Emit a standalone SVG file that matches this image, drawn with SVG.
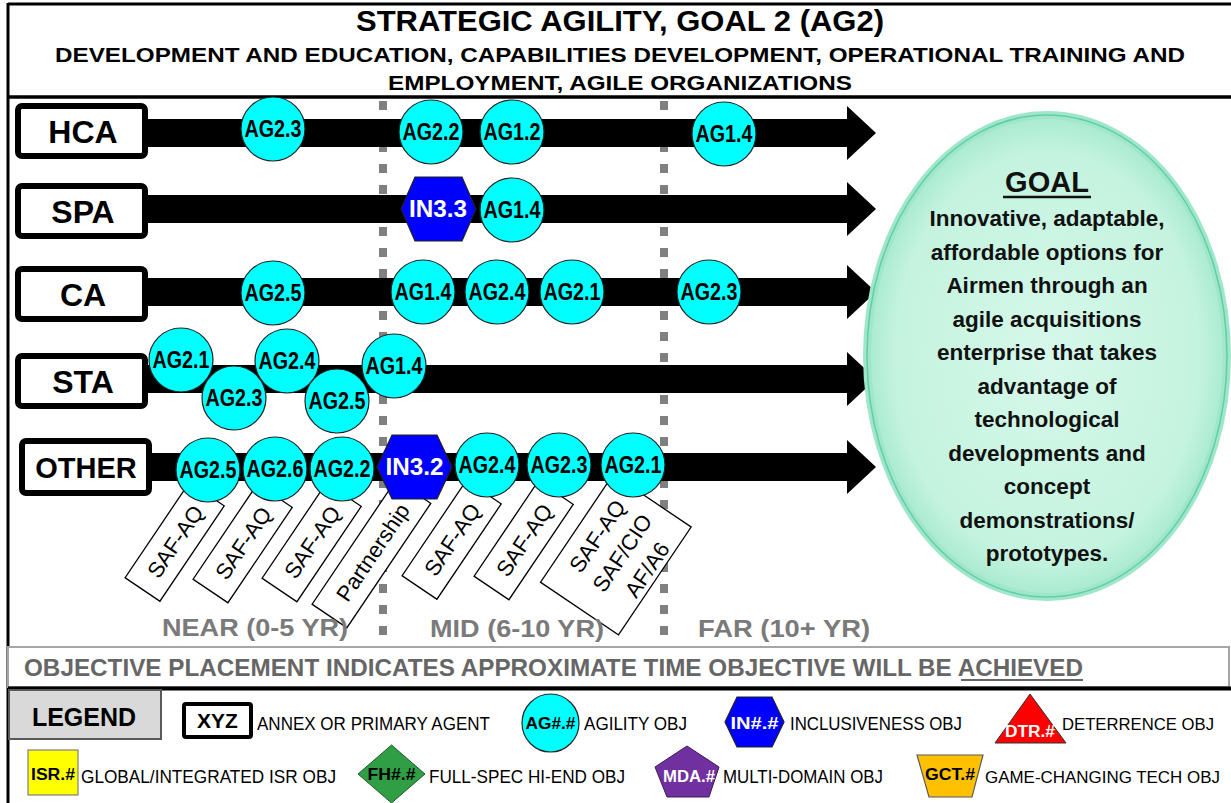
<svg xmlns="http://www.w3.org/2000/svg" width="1231" height="803" viewBox="0 0 1231 803">
<defs>
<radialGradient id="goalFill" cx="50%" cy="50%" r="50%">
<stop offset="0" stop-color="#d6f8ea"/>
<stop offset="0.85" stop-color="#c4f3df"/>
<stop offset="1" stop-color="#a8ead0"/>
</radialGradient>
<style>
text{font-family:"Liberation Sans",Arial,sans-serif;}
.b{font-weight:bold;}
.lbl{fill:#fff;stroke:#000;stroke-width:6;}
.lblt{font-size:32px;font-weight:bold;text-anchor:middle;fill:#000;}
.bar{fill:#000;}
.dash{stroke:#808080;stroke-width:8;stroke-dasharray:9 12;fill:none;}
.ag{fill:#00ffff;stroke:#222;stroke-width:1.2;}
.agt{font-size:23px;font-weight:bold;text-anchor:middle;fill:#000;}
.in{fill:#0000ff;stroke:#222;stroke-width:1.2;}
.int{font-size:23px;font-weight:bold;text-anchor:middle;fill:#fff;}
.tag{fill:#fff;stroke:#000;stroke-width:1.3;}
.tagt{font-size:22px;text-anchor:middle;fill:#000;}
.time{font-size:24px;font-weight:bold;fill:#7a7a7a;}
.leg{font-size:19px;fill:#000;}
.legn{font-size:16.5px;fill:#000;}
.legs{font-size:16px;font-weight:bold;text-anchor:middle;}
.goal{font-size:22.5px;font-weight:bold;text-anchor:middle;fill:#111;}
</style>
</defs>
<rect x="0" y="0" width="1231" height="803" fill="#fff"/>

<!-- frame & title -->
<g id="title">
<line x1="8" y1="4" x2="1231" y2="4" stroke="#000" stroke-width="3"/>
<line x1="8" y1="3" x2="8" y2="803" stroke="#000" stroke-width="3"/>
<line x1="8" y1="97" x2="1231" y2="97" stroke="#000" stroke-width="3.5"/>
<text x="620" y="31" class="b" font-size="29" text-anchor="middle" textLength="528" lengthAdjust="spacingAndGlyphs">STRATEGIC AGILITY, GOAL 2 (AG2)</text>
<text x="620" y="62" class="b" font-size="20.5" text-anchor="middle" textLength="1130" lengthAdjust="spacingAndGlyphs">DEVELOPMENT AND EDUCATION, CAPABILITIES DEVELOPMENT, OPERATIONAL TRAINING AND</text>
<text x="620" y="90" class="b" font-size="20.5" text-anchor="middle" textLength="464" lengthAdjust="spacingAndGlyphs">EMPLOYMENT, AGILE ORGANIZATIONS</text>
</g>

<!-- time dividers -->
<g id="dividers">
<line class="dash" x1="383" y1="101" x2="383" y2="648"/>
<line class="dash" x1="664" y1="101" x2="664" y2="648"/>
</g>

<!-- connectors: timeline bars with arrowheads -->
<g id="connectors">
<rect class="bar" x="146" y="119" width="702" height="28"/>
<polygon class="bar" points="847,106 876,133 847,160"/>
<rect class="bar" x="146" y="195" width="702" height="28"/>
<polygon class="bar" points="847,182 876,209 847,236"/>
<rect class="bar" x="146" y="278" width="702" height="28"/>
<polygon class="bar" points="847,265 876,292 847,319"/>
<rect class="bar" x="146" y="365" width="702" height="28"/>
<polygon class="bar" points="847,352 876,379 847,406"/>
<rect class="bar" x="150" y="453" width="698" height="28"/>
<polygon class="bar" points="847,440 876,467 847,494"/>
</g>

<!-- row labels -->
<g id="row-HCA"><rect class="lbl" x="18" y="106" width="127" height="50" rx="4"/><text class="lblt" x="83" y="143">HCA</text></g>
<g id="row-SPA"><rect class="lbl" x="18" y="186" width="127" height="50" rx="4"/><text class="lblt" x="83" y="223">SPA</text></g>
<g id="row-CA"><rect class="lbl" x="18" y="269" width="127" height="50" rx="4"/><text class="lblt" x="83" y="306">CA</text></g>
<g id="row-STA"><rect class="lbl" x="18" y="356" width="127" height="50" rx="4"/><text class="lblt" x="83" y="393">STA</text></g>
<g id="row-OTHER"><rect class="lbl" x="22" y="441" width="127" height="52" rx="4"/><text class="lblt" x="86" y="478" style="font-size:29px">OTHER</text></g>

<!-- agent tags under OTHER row -->
<g id="tag-1" transform="translate(142.5,589.5) rotate(-56)"><rect class="tag" x="0" y="-21" width="115" height="42"/><text class="tagt" x="58" y="8">SAF-AQ</text></g>
<g id="tag-2" transform="translate(210.5,591) rotate(-56)"><rect class="tag" x="0" y="-21" width="115" height="42"/><text class="tagt" x="58" y="8">SAF-AQ</text></g>
<g id="tag-3" transform="translate(279.5,590) rotate(-56)"><rect class="tag" x="0" y="-21" width="115" height="42"/><text class="tagt" x="58" y="8">SAF-AQ</text></g>
<g id="tag-4" transform="translate(329.5,616) rotate(-56)"><rect class="tag" x="0" y="-21" width="150" height="42"/><text class="tagt" x="77" y="8">Partnership</text></g>
<g id="tag-5" transform="translate(419.5,587.5) rotate(-56)"><rect class="tag" x="0" y="-21" width="115" height="42"/><text class="tagt" x="58" y="8">SAF-AQ</text></g>
<g id="tag-6" transform="translate(491.5,588) rotate(-56)"><rect class="tag" x="0" y="-21" width="115" height="42"/><text class="tagt" x="58" y="8">SAF-AQ</text></g>
<g id="tag-7" transform="translate(579.5,608.5) rotate(-56)"><rect class="tag" x="0" y="-47" width="130" height="94"/>
<text class="tagt" x="70" y="-18">SAF-AQ</text><text class="tagt" x="70" y="12">SAF/CIO</text><text class="tagt" x="70" y="42">AF/A6</text></g>

<!-- HCA objectives -->
<g id="hca-ag23"><circle class="ag" cx="273" cy="129" r="32"/><text class="agt" x="273" y="137" textLength="57" lengthAdjust="spacingAndGlyphs">AG2.3</text></g>
<g id="hca-ag22"><circle class="ag" cx="431" cy="132" r="32"/><text class="agt" x="431" y="140" textLength="57" lengthAdjust="spacingAndGlyphs">AG2.2</text></g>
<g id="hca-ag12"><circle class="ag" cx="512" cy="132" r="32"/><text class="agt" x="512" y="140" textLength="57" lengthAdjust="spacingAndGlyphs">AG1.2</text></g>
<g id="hca-ag14"><circle class="ag" cx="724" cy="134" r="32"/><text class="agt" x="724" y="142" textLength="57" lengthAdjust="spacingAndGlyphs">AG1.4</text></g>

<!-- SPA objectives -->
<g id="spa-in33"><polygon class="in" points="401,209 415,177 462,177 476,209 462,241 415,241"/><text class="int" x="438" y="217" textLength="58" lengthAdjust="spacingAndGlyphs">IN3.3</text></g>
<g id="spa-ag14"><circle class="ag" cx="512" cy="210" r="32"/><text class="agt" x="512" y="218" textLength="57" lengthAdjust="spacingAndGlyphs">AG1.4</text></g>

<!-- CA objectives -->
<g id="ca-ag25"><circle class="ag" cx="273" cy="293" r="32"/><text class="agt" x="273" y="301" textLength="57" lengthAdjust="spacingAndGlyphs">AG2.5</text></g>
<g id="ca-ag14"><circle class="ag" cx="423" cy="292" r="32"/><text class="agt" x="423" y="300" textLength="57" lengthAdjust="spacingAndGlyphs">AG1.4</text></g>
<g id="ca-ag24"><circle class="ag" cx="497" cy="292" r="32"/><text class="agt" x="497" y="300" textLength="57" lengthAdjust="spacingAndGlyphs">AG2.4</text></g>
<g id="ca-ag21"><circle class="ag" cx="572" cy="292" r="32"/><text class="agt" x="572" y="300" textLength="57" lengthAdjust="spacingAndGlyphs">AG2.1</text></g>
<g id="ca-ag23"><circle class="ag" cx="709" cy="292" r="32"/><text class="agt" x="709" y="300" textLength="57" lengthAdjust="spacingAndGlyphs">AG2.3</text></g>

<!-- STA objectives -->
<g id="sta-ag21"><circle class="ag" cx="181" cy="360" r="32"/><text class="agt" x="181" y="368" textLength="57" lengthAdjust="spacingAndGlyphs">AG2.1</text></g>
<g id="sta-ag23"><circle class="ag" cx="234" cy="398" r="32"/><text class="agt" x="234" y="406" textLength="57" lengthAdjust="spacingAndGlyphs">AG2.3</text></g>
<g id="sta-ag24"><circle class="ag" cx="287" cy="361" r="32"/><text class="agt" x="287" y="369" textLength="57" lengthAdjust="spacingAndGlyphs">AG2.4</text></g>
<g id="sta-ag25"><circle class="ag" cx="337" cy="401" r="32"/><text class="agt" x="337" y="409" textLength="57" lengthAdjust="spacingAndGlyphs">AG2.5</text></g>
<g id="sta-ag14"><circle class="ag" cx="394" cy="366" r="32"/><text class="agt" x="394" y="374" textLength="57" lengthAdjust="spacingAndGlyphs">AG1.4</text></g>

<!-- OTHER objectives -->
<g id="oth-ag25"><circle class="ag" cx="208" cy="470" r="32"/><text class="agt" x="208" y="478" textLength="57" lengthAdjust="spacingAndGlyphs">AG2.5</text></g>
<g id="oth-ag26"><circle class="ag" cx="275" cy="469" r="32"/><text class="agt" x="275" y="477" textLength="57" lengthAdjust="spacingAndGlyphs">AG2.6</text></g>
<g id="oth-ag22"><circle class="ag" cx="342" cy="469" r="32"/><text class="agt" x="342" y="477" textLength="57" lengthAdjust="spacingAndGlyphs">AG2.2</text></g>
<g id="oth-in32"><polygon class="in" points="377,467 392,435 437,435 452,467 437,499 392,499"/><text class="int" x="414.5" y="475" textLength="58" lengthAdjust="spacingAndGlyphs">IN3.2</text></g>
<g id="oth-ag24"><circle class="ag" cx="487" cy="465" r="32"/><text class="agt" x="487" y="473" textLength="57" lengthAdjust="spacingAndGlyphs">AG2.4</text></g>
<g id="oth-ag23"><circle class="ag" cx="559" cy="465" r="32"/><text class="agt" x="559" y="473" textLength="57" lengthAdjust="spacingAndGlyphs">AG2.3</text></g>
<g id="oth-ag21"><circle class="ag" cx="633" cy="465" r="32"/><text class="agt" x="633" y="473" textLength="57" lengthAdjust="spacingAndGlyphs">AG2.1</text></g>

<!-- time labels -->
<g id="time-labels">
<text class="time" x="162" y="636" textLength="186" lengthAdjust="spacingAndGlyphs">NEAR (0-5 YR)</text>
<text class="time" x="430" y="637" textLength="174" lengthAdjust="spacingAndGlyphs">MID (6-10 YR)</text>
<text class="time" x="698" y="637" textLength="172" lengthAdjust="spacingAndGlyphs">FAR (10+ YR)</text>
</g>

<!-- goal -->
<g id="goal">
<ellipse cx="1047" cy="356" rx="180" ry="241" fill="url(#goalFill)" stroke="#9fe6cb" stroke-width="8"/>
<ellipse cx="1047" cy="356" rx="180" ry="241" fill="none" stroke="#5fcfa6" stroke-width="1.5"/>
<text x="1047" y="192" font-size="29" class="b" text-anchor="middle" fill="#111">GOAL</text>
<line x1="1003" y1="197" x2="1091" y2="197" stroke="#111" stroke-width="2.5"/>
<text class="goal" x="1047" y="226">Innovative, adaptable,</text>
<text class="goal" x="1047" y="259.5">affordable options for</text>
<text class="goal" x="1047" y="293">Airmen through an</text>
<text class="goal" x="1047" y="326.5">agile acquisitions</text>
<text class="goal" x="1047" y="360">enterprise that takes</text>
<text class="goal" x="1047" y="393.5">advantage of</text>
<text class="goal" x="1047" y="427">technological</text>
<text class="goal" x="1047" y="460.5">developments and</text>
<text class="goal" x="1047" y="494">concept</text>
<text class="goal" x="1047" y="527.5">demonstrations/</text>
<text class="goal" x="1047" y="561">prototypes.</text>
</g>

<!-- objective placement note -->
<g id="note">
<rect x="8" y="647" width="1221" height="40" fill="#fff" stroke="#a6a6a6" stroke-width="2"/>
<text x="24" y="676" class="b" font-size="23" fill="#666" textLength="1059" lengthAdjust="spacingAndGlyphs">OBJECTIVE PLACEMENT INDICATES APPROXIMATE TIME OBJECTIVE WILL BE ACHIEVED</text>
<line x1="961" y1="680" x2="1083" y2="680" stroke="#666" stroke-width="2"/>
<line x1="8" y1="688.5" x2="1231" y2="688.5" stroke="#000" stroke-width="4"/>
</g>

<!-- legend -->
<g id="legend">
<rect x="9" y="690" width="152" height="49" fill="#d9d9d9" stroke="#595959" stroke-width="2"/>
<text x="84" y="726" class="b" font-size="25" text-anchor="middle">LEGEND</text>

<rect x="184" y="704" width="67" height="33" rx="2" fill="#fff" stroke="#000" stroke-width="4"/>
<text x="217.5" y="728" class="b" font-size="21" text-anchor="middle">XYZ</text>
<text class="leg" x="257" y="730" textLength="233" lengthAdjust="spacingAndGlyphs">ANNEX OR PRIMARY AGENT</text>

<ellipse cx="550.5" cy="723" rx="28.5" ry="29" class="ag"/>
<text class="legs" x="550.5" y="729" textLength="50" lengthAdjust="spacingAndGlyphs">AG#.#</text>
<text class="leg" x="584" y="730" textLength="103" lengthAdjust="spacingAndGlyphs">AGILITY  OBJ</text>

<polygon class="in" points="725,722 737,697 772,697 784,722 772,747 737,747"/>
<text class="legs" x="754.5" y="729" fill="#fff" textLength="48" lengthAdjust="spacingAndGlyphs">IN#.#</text>
<text class="leg" x="790" y="730" textLength="172" lengthAdjust="spacingAndGlyphs">INCLUSIVENESS  OBJ</text>

<polygon points="1030,694 1066,743 995,743" fill="#ff0000" stroke="#333" stroke-width="1"/>
<text class="legs" x="1030" y="737" fill="#fff" textLength="50" lengthAdjust="spacingAndGlyphs">DTR.#</text>
<text class="legn" x="1062" y="730" textLength="152" lengthAdjust="spacingAndGlyphs">DETERRENCE  OBJ</text>

<rect x="28" y="750" width="50" height="45" fill="#ffff00" stroke="#7f7f7f" stroke-width="1.2"/>
<text class="legs" x="53" y="780" textLength="44" lengthAdjust="spacingAndGlyphs">ISR.#</text>
<text class="leg" x="81" y="783" textLength="255" lengthAdjust="spacingAndGlyphs">GLOBAL/INTEGRATED  ISR OBJ</text>

<polygon points="358,774 391.5,745 425,774 391.5,803" fill="#2f9e44" stroke="#1d5e28" stroke-width="1"/>
<text class="legs" x="391.5" y="780" textLength="48" lengthAdjust="spacingAndGlyphs">FH#.#</text>
<text class="leg" x="429" y="783" textLength="196" lengthAdjust="spacingAndGlyphs">FULL-SPEC HI-END OBJ</text>

<polygon points="687,746 719,767 709,797 667,797 655,767" fill="#7030a0" stroke="#3d1a57" stroke-width="1"/>
<text class="legs" x="689" y="782" fill="#fff" textLength="52" lengthAdjust="spacingAndGlyphs">MDA.#</text>
<text class="leg" x="723" y="783" textLength="160" lengthAdjust="spacingAndGlyphs">MULTI-DOMAIN  OBJ</text>

<polygon points="917,755 983,755 972,797 929,797" fill="#ffc000" stroke="#595959" stroke-width="1.2"/>
<text class="legs" x="950" y="780" textLength="50" lengthAdjust="spacingAndGlyphs">GCT.#</text>
<text class="legn" x="985" y="783" textLength="235" lengthAdjust="spacingAndGlyphs">GAME-CHANGING TECH OBJ</text>
</g>
</svg>
